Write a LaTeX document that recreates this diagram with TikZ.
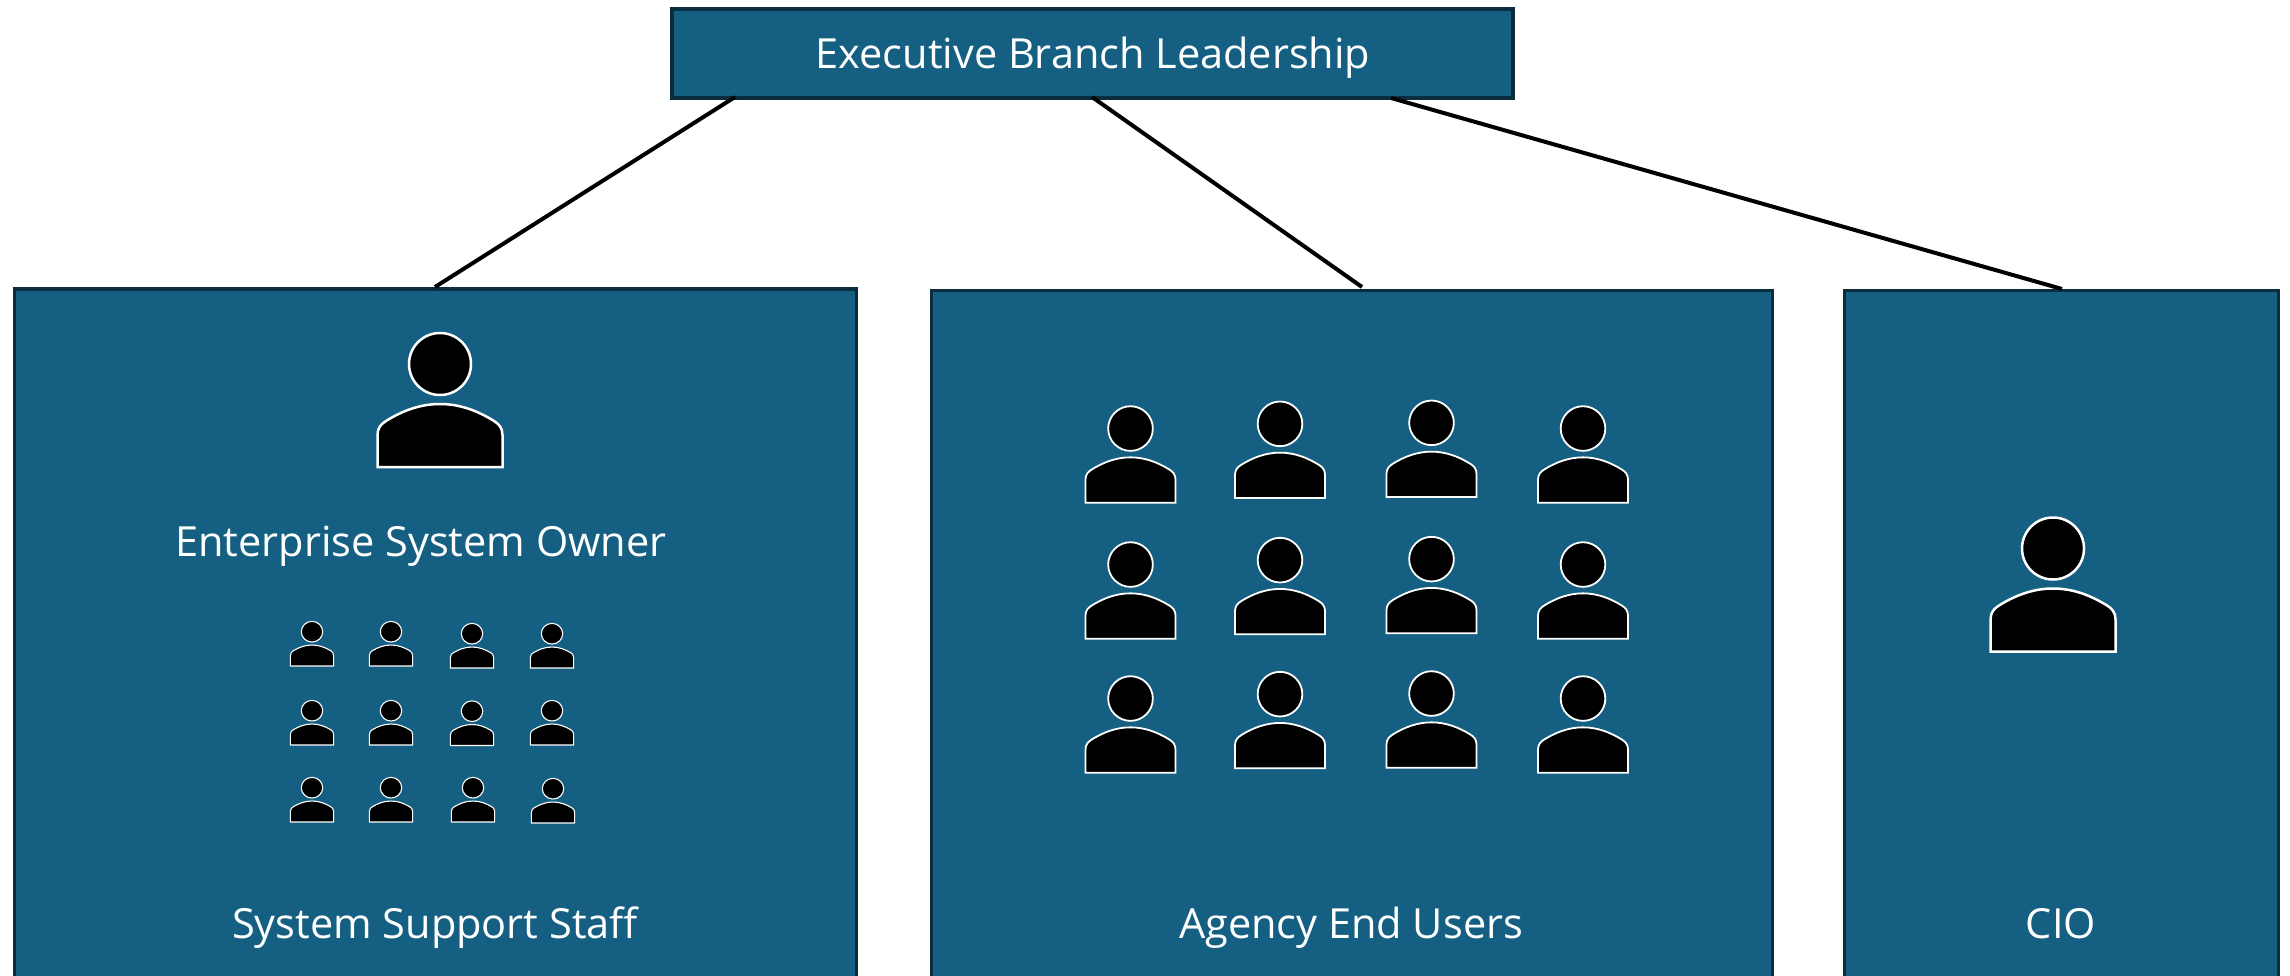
\documentclass[tikz,border=0pt]{standalone}
\usepackage{fontspec}
\setmainfont{Open Sans}
\definecolor{boxblue}{HTML}{156082}
\definecolor{boxedge}{HTML}{0B2E3F}
\tikzset{
  panel/.style={fill=boxblue,draw=boxedge,line width=3.8pt,inner sep=0pt,anchor=north west},
  boxlabel/.style={text=white,font=\fontsize{41.5}{50}\selectfont,inner sep=0pt,anchor=base},
  linkline/.style={draw=black,line width=4pt},
  pics/person/.style={code={
    \draw[white,fill=black,line width=#1] (0,-103) circle (31);
    \draw[white,fill=black,line width=#1] (-62.5,0) -- (-62.5,-32) .. controls (-62.5,-39) and (-59,-43) .. (-54,-46)
      .. controls (-38,-56) and (-20,-63) .. (0,-63)
      .. controls (20,-63) and (38,-56) .. (54,-46)
      .. controls (59,-43) and (62.5,-39) .. (62.5,-32) -- (62.5,0) -- cycle;
  }}
}
\begin{document}
\begin{tikzpicture}[x=1pt,y=-1pt]
\useasboundingbox (0,0) rectangle (2290,976);
% panels
\node[panel,minimum width=841pt,minimum height=89pt] (top) at (670,7.5) {};
\node[panel,minimum width=842pt,minimum height=692pt] (left) at (12.5,287) {};
\node[panel,minimum width=841pt,minimum height=692pt] (mid) at (929.5,288.5) {};
\node[panel,minimum width=434pt,minimum height=692pt] (right) at (1842.5,288.5) {};
% connector ends
\coordinate (t1) at (735,97);
\coordinate (t2) at (1092,97);
\coordinate (t3) at (1391,98);
\coordinate (p1) at (435,287);
\coordinate (p2) at (1362,287);
\coordinate (p3) at (2062,289);
\draw[linkline] (t1) -- (p1);
\draw[linkline] (t2) -- (p2);
\draw[linkline] (t3) -- (p3);
% labels
\node[boxlabel] (ltop) at (1093,69) {Executive Branch Leadership};
\node[boxlabel] (lown) at (421,556.5) {Enterprise System Owner};
\node[boxlabel] (lsup) at (435,938) {System Support Staff};
\node[boxlabel] (lend) at (1351,938) {Agency End Users};
\node[boxlabel] (lcio) at (2061,938) {CIO};
% large persons
\pic[scale=1] at (440,467) {person=2.5pt};
\pic[scale=1] at (2053,651.5) {person=2.5pt};
% medium persons
\foreach \px/\py in {1130.5/502.7,1280/498,1431.5/497,1583/502.7,
                     1130.5/638.7,1280/634.3,1431.5/633.3,1583/638.7,
                     1130.5/772.7,1280/768.3,1431.5/767.7,1583/772.7}
  \pic[scale=0.72] at (\px,\py) {person=1.8pt};
% small persons
\foreach \px/\py in {312/666,391/666,472/668,552/668,
                     312/745,391/745,472/745.5,552/745,
                     312/822,391/822,473/822,553/823}
  \pic[xscale=0.345,yscale=0.333] at (\px,\py) {person=1.1pt};
\end{tikzpicture}
\end{document}
